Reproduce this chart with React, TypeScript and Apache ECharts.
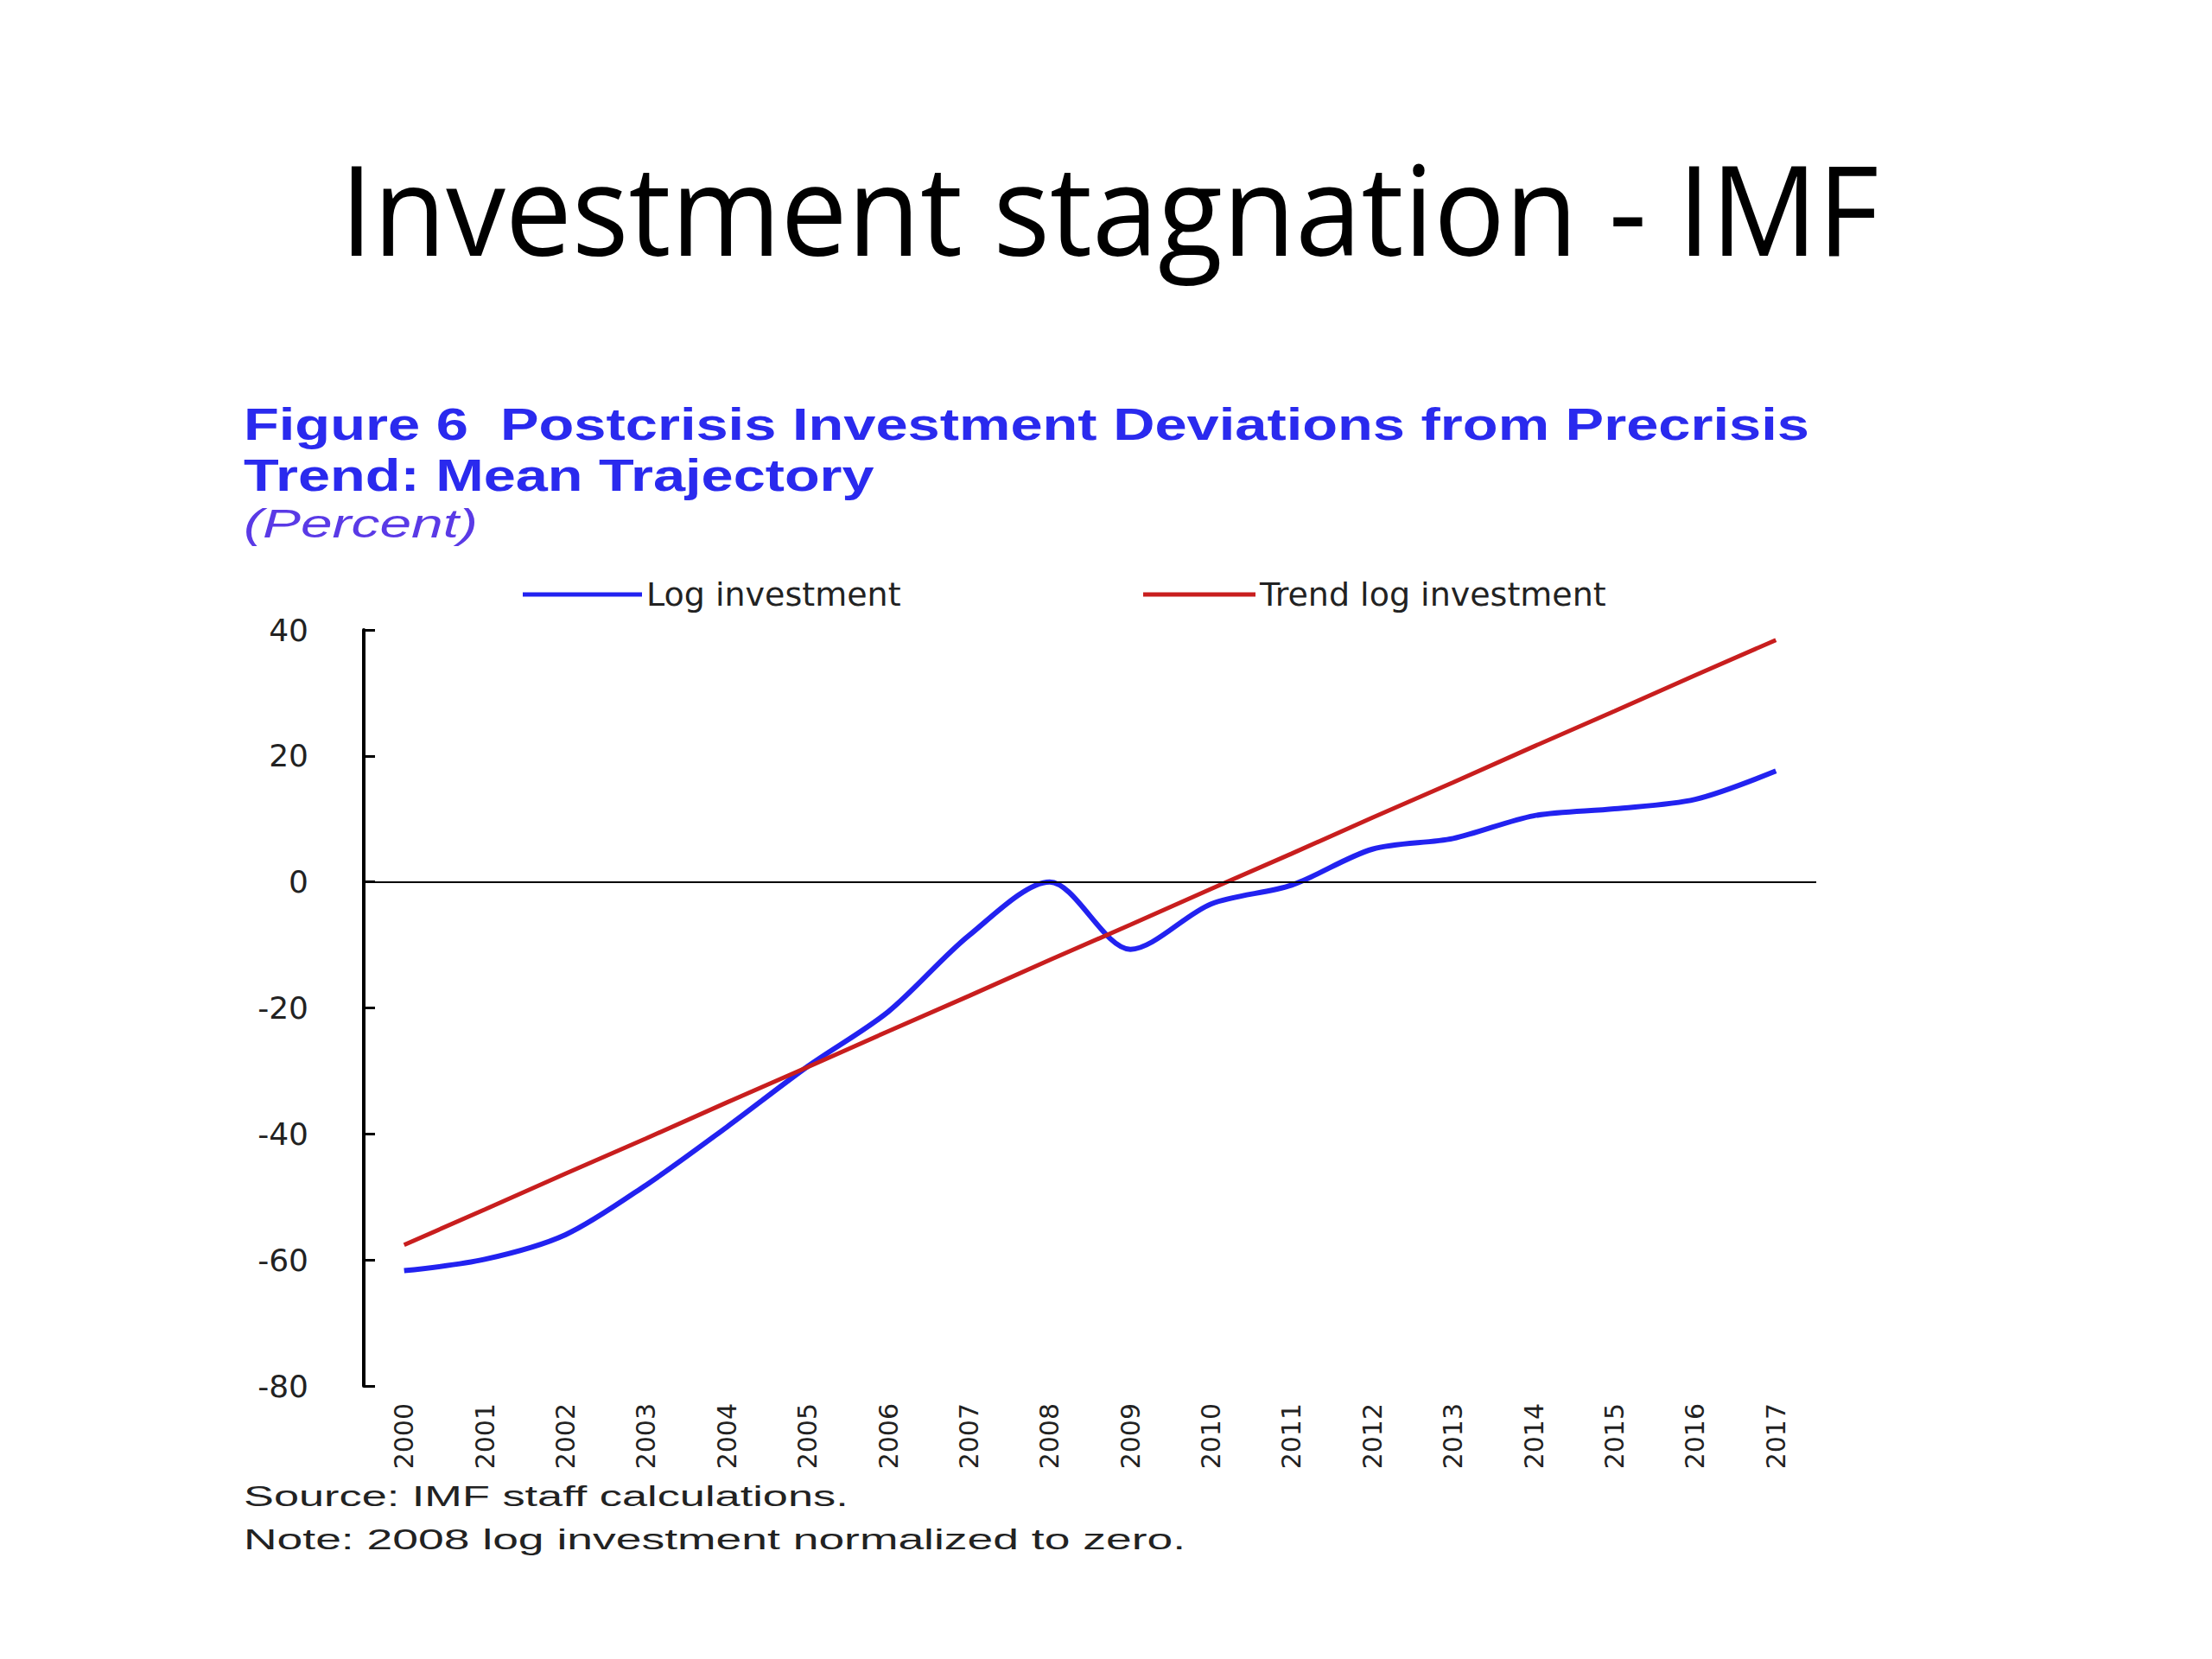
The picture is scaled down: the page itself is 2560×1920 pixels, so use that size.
import React, { useEffect, useRef } from 'react'
import * as echarts from 'echarts'

// categories and series
const years = [
  '2000', '2001', '2002', '2003', '2004', '2005', '2006', '2007', '2008',
  '2009', '2010', '2011', '2012', '2013', '2014', '2015', '2016', '2017',
]
const logInvestment = [
  -61.7, -59.9, -56.0, -48.1, -38.9, -29.3, -20.6, -8.5, 0.0,
  -10.7, -3.5, -0.5, 5.2, 6.9, 10.5, 11.6, 13.1, 17.6,
]
const trendLogInvestment = [
  -57.6, -52.0, -46.3, -40.7, -35.0, -29.4, -23.7, -18.1, -12.4,
  -6.8, -1.1, 4.5, 10.2, 15.8, 21.5, 27.1, 32.8, 38.4,
]
const yMin = -80
const yMax = 40
const yStep = 20

const slideTitle = 'Investment stagnation - IMF'
const figTitle1 = 'Figure 6  Postcrisis Investment Deviations from Precrisis'
const figTitle2 = 'Trend: Mean Trajectory'
const unitText = '(Percent)'
const sourceText = 'Source: IMF staff calculations.'
const noteText = 'Note: 2008 log investment normalized to zero.'

const ARIAL = '"Liberation Sans", Arial, sans-serif'
const WIDE = '"DejaVu Sans", "Liberation Sans", sans-serif'

// horizontal squeeze/stretch so a text spans the width it has in the picture
function fitScale(text: string, font: string, width: number) {
  const ctx = document.createElement('canvas').getContext('2d')
  if (!ctx) return 1
  ctx.font = font
  const w = ctx.measureText(text).width
  return w > 0 ? width / w : 1
}

function label(
  text: string,
  x: number,
  y: number,
  width: number,
  o: { size: number; family: string; weight?: string; style?: string; color: string; align?: string },
) {
  const weight = o.weight || 'normal'
  const fstyle = o.style || 'normal'
  const font = `${fstyle} ${weight} ${o.size}px ${o.family}`
  return {
    type: 'text',
    x,
    y,
    scaleX: fitScale(text, font, width),
    style: {
      text,
      fill: o.color,
      fontSize: o.size,
      fontFamily: o.family,
      fontWeight: weight,
      fontStyle: fstyle,
      textAlign: o.align || 'left',
      textVerticalAlign: 'middle',
    },
  }
}

function Chart() {
  const chartRef = useRef<HTMLDivElement>(null)

  useEffect(() => {
    const chart = echarts.init(chartRef.current, null, { renderer: 'svg' })
    const blue = '#2222f0'
    const red = '#c81e1e'
    const titleBlue = '#2a2aee'

    const option = {
      animation: false,
      backgroundColor: '#ffffff',
      graphic: [
        label(slideTitle, 1284, 240, 1780, {
          size: 144, family: '"Open Sans", sans-serif', color: '#000', align: 'center',
        }),
        label(figTitle1, 282, 491, 1812, { size: 52, family: ARIAL, weight: 'bold', color: titleBlue }),
        label(figTitle2, 282, 550, 730, { size: 52, family: ARIAL, weight: 'bold', color: titleBlue }),
        label(unitText, 282, 606, 271, { size: 46, family: ARIAL, style: 'italic', color: '#5a3ae6' }),
        label(sourceText, 282, 1731, 700, { size: 34, family: ARIAL, color: '#222' }),
        label(noteText, 282, 1781, 1090, { size: 34, family: ARIAL, color: '#222' }),
      ],
      legend: [
        {
          left: 600,
          top: 664,
          data: ['Log investment'],
          icon: 'rect',
          itemWidth: 138,
          itemHeight: 5,
          textStyle: { fontSize: 38, fontFamily: WIDE, color: '#222' },
        },
        {
          left: 1318,
          top: 664,
          data: ['Trend log investment'],
          icon: 'rect',
          itemWidth: 130,
          itemHeight: 5,
          textStyle: { fontSize: 38, fontFamily: WIDE, color: '#222' },
        },
      ],
      grid: { left: 421, right: 458, top: 729, bottom: 316, containLabel: false },
      xAxis: {
        type: 'category',
        data: years,
        boundaryGap: true,
        axisLine: { show: false },
        axisTick: { show: false },
        splitLine: { show: false },
        axisLabel: {
          rotate: 90,
          margin: 20,
          fontSize: 30,
          fontFamily: WIDE,
          color: '#222',
          interval: 0,
        },
      },
      yAxis: {
        type: 'value',
        min: yMin,
        max: yMax,
        interval: yStep,
        splitLine: { show: false },
        axisLine: { show: true, lineStyle: { color: '#000', width: 4 } },
        axisTick: { show: true, inside: true, length: 13, lineStyle: { color: '#000', width: 3 } },
        axisLabel: { margin: 64, fontSize: 36, fontFamily: WIDE, color: '#222' },
      },
      series: [
        {
          name: 'Log investment',
          type: 'line',
          data: logInvestment,
          smooth: 0.3,
          showSymbol: false,
          color: blue,
          lineStyle: { color: blue, width: 6 },
        },
        {
          name: 'Trend log investment',
          type: 'line',
          data: trendLogInvestment,
          showSymbol: false,
          color: red,
          lineStyle: { color: red, width: 5 },
          markLine: {
            silent: true,
            symbol: 'none',
            label: { show: false },
            lineStyle: { color: '#000', width: 2, type: 'solid' },
            data: [{ yAxis: 0 }],
          },
        },
      ],
    }

    chart.setOption(option)

    return () => {
      chart.dispose()
    }
  }, [])

  return (
    <div
      ref={chartRef}
      style={{ position: 'absolute', left: 0, top: 0, width: 2560, height: 1920 }}
    ></div>
  )
}

export default function App() {
  return <Chart />
}
